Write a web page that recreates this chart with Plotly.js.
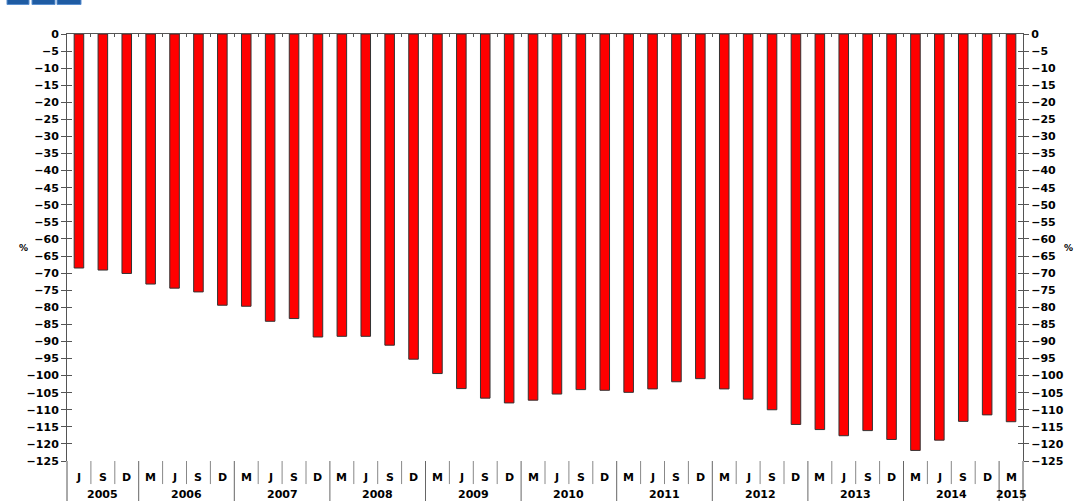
<!DOCTYPE html>
<html>
<head>
<meta charset="utf-8">
<script src="https://cdn.plot.ly/plotly-3.0.1.min.js"></script>
<style>html,body{margin:0;padding:0;background:#fff;}#chart{width:1083px;height:501px;}</style>
</head>
<body>
<div id="chart"></div>
<script>
// Quarter labels (J = June, S = September, D = December, M = March)
var quarters = ['J','S','D',
  'M','J','S','D', 'M','J','S','D', 'M','J','S','D', 'M','J','S','D',
  'M','J','S','D', 'M','J','S','D', 'M','J','S','D', 'M','J','S','D',
  'M','J','S','D', 'M'];
var years = ['2005','2005','2005',
  '2006','2006','2006','2006', '2007','2007','2007','2007',
  '2008','2008','2008','2008', '2009','2009','2009','2009',
  '2010','2010','2010','2010', '2011','2011','2011','2011',
  '2012','2012','2012','2012', '2013','2013','2013','2013',
  '2014','2014','2014','2014', '2015'];
var values = [-68.5, -69.1, -70.1,
  -73.2, -74.4, -75.5, -79.4,
  -79.7, -84.1, -83.3, -88.7,
  -88.5, -88.5, -91.1, -95.2,
  -99.4, -103.8, -106.6, -108.0,
  -107.2, -105.4, -104.1, -104.3,
  -104.9, -103.9, -101.8, -100.9,
  -103.9, -106.9, -110.0, -114.3,
  -115.8, -117.6, -116.1, -118.7,
  -121.9, -118.9, -113.4, -111.5,
  -113.5];
var yTicks = [];
for (var t = 0; t >= -125; t -= 5) yTicks.push(t);

var cats = quarters.map(function(q, i){ return q + ' ' + years[i] + ' #' + i; });

var FONT = {family: 'DejaVu Sans, Arial, sans-serif', size: 11, color: '#000', weight: 'bold'};
var AXC = '#555';

var trace = {
  type: 'bar', x: cats, y: values, width: 0.4,
  marker: {color: '#ff0000', line: {color: '#333', width: 1}},
  hoverinfo: 'y', showlegend: false
};
var ghost = function(ax){
  return {type: 'scatter', mode: 'markers', x: cats, y: values, yaxis: ax,
    marker: {opacity: 0, size: 1}, hoverinfo: 'skip', showlegend: false};
};

var yBase = {range: [-125, 0], tickvals: yTicks, showgrid: false, zeroline: false,
  showline: true, linecolor: AXC, linewidth: 1, tickcolor: AXC, ticklen: 5, tickwidth: 1,
  tickfont: FONT, fixedrange: true};
function clone(o, extra){ var r = JSON.parse(JSON.stringify(o)); for (var k in extra) r[k] = extra[k]; return r; }

var shapes = [], annotations = [];
var N = values.length;
// quarter labels and separators
for (var i = 0; i < N; i++) {
  annotations.push({x: i, y: -0.0375, xref: 'x', yref: 'paper', text: quarters[i],
    showarrow: false, font: FONT, xanchor: 'center', yanchor: 'middle'});
  if (i < N - 1) {
    var yearBreak = years[i] !== years[i + 1];
    shapes.push({type: 'line', xref: 'x', yref: 'paper', x0: i + 0.5, x1: i + 0.5,
      y0: 0, y1: yearBreak ? -0.0937 : -0.054,
      line: {color: yearBreak ? '#666' : '#888', width: 1}});
  }
}
// year labels centred under their group
var groups = {};
years.forEach(function(y, i){ (groups[y] = groups[y] || []).push(i); });
Object.keys(groups).forEach(function(y){
  var g = groups[y];
  var c = (g[0] + g[g.length - 1]) / 2;
  annotations.push({x: c, y: -0.0775, xref: 'x', yref: 'paper', text: y,
    showarrow: false, font: FONT, xanchor: 'center', yanchor: 'middle'});
});
// axis lines extending below the plot
[0, 1].forEach(function(px){
  shapes.push({type: 'line', xref: 'paper', yref: 'paper', x0: px, x1: px, y0: 0, y1: -0.0937,
    line: {color: AXC, width: 1}});
});
// logo blocks
[[7, 29], [32, 55], [57, 81]].forEach(function(b){
  shapes.push({type: 'rect', xref: 'paper', yref: 'paper',
    x0: (b[0] - 67) / 956, x1: (b[1] - 67) / 956, y0: (461 - 4.5) / 427, y1: (461 + 2) / 427,
    fillcolor: '#1f5ca3', line: {color: '#5a8fd0', width: 1}});
});
// % labels
var PFONT = {family: FONT.family, size: 9, color: '#000000', weight: 'bold'};
annotations.push({x: -0.0523, y: 0.499, xref: 'paper', yref: 'paper', text: '%', showarrow: false, font: PFONT});
annotations.push({x: 1.054, y: 0.499, xref: 'paper', yref: 'paper', text: '%', showarrow: false, font: PFONT});

var layout = {
  width: 1083, height: 501,
  margin: {l: 67, r: 60, t: 34, b: 40, pad: 0},
  paper_bgcolor: '#fff', plot_bgcolor: '#fff',
  showlegend: false, bargap: 0.6,
  xaxis: {type: 'category', range: [-0.5, N - 0.5], side: 'top', showline: true, linecolor: AXC,
    linewidth: 1, ticks: 'inside', ticklen: 3, tickcolor: AXC, tickson: 'boundaries',
    showticklabels: false, showgrid: false, zeroline: false, fixedrange: true},
  yaxis: clone(yBase, {side: 'left', ticks: 'outside'}),
  yaxis2: clone(yBase, {side: 'right', ticks: 'outside', overlaying: 'y'}),
  yaxis3: clone(yBase, {side: 'left', ticks: 'inside', overlaying: 'y', showticklabels: false}),
  yaxis4: clone(yBase, {side: 'right', ticks: 'inside', overlaying: 'y', showticklabels: false}),
  shapes: shapes, annotations: annotations
};

Plotly.newPlot('chart', [trace, ghost('y2'), ghost('y3'), ghost('y4')], layout,
  {displayModeBar: false, staticPlot: true});
</script>
</body>
</html>
